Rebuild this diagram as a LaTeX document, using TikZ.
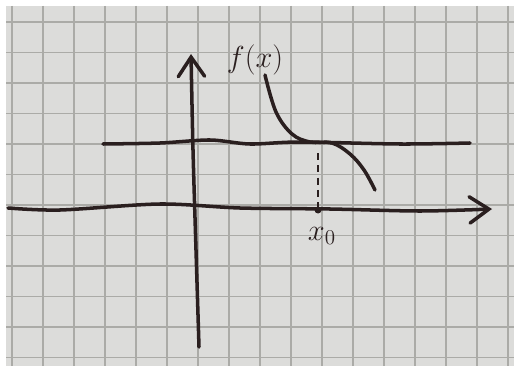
\documentclass[tikz,border=0pt]{standalone}
\usepackage{amsmath,amssymb}
\usetikzlibrary{arrows.meta, calc}
\definecolor{paper}{HTML}{DCDCDA}
\definecolor{gridline}{HTML}{ABABA7}
\definecolor{ink}{HTML}{2A1F1F}

\begin{document}
\begin{tikzpicture}[x=0.02cm, y=-0.02cm, font=\LARGE,
  pen/.style={draw=ink, line width=2pt, line cap=round, line join=round},
  axis/.style={pen, -{Straight Barb[length=11pt, width=15pt, line width=2pt, line cap=round]}},
  helper/.style={draw=ink, line width=1.6pt, dash pattern=on 4pt off 3pt},
  lab/.style={text=ink, inner sep=1pt}]
  \useasboundingbox (0,0) rectangle (519,371);
  % --- paper with squares ---
  \fill[white] (0,0) rectangle (519,371);
  \fill[paper] (6,6) rectangle (514,366);
  \foreach \i in {0,...,16}{\draw[gridline, line width=0.6pt] (12+\i*31,6) -- (12+\i*31,366);}
  \foreach \j in {0,...,11}{\draw[gridline, line width=0.6pt] (6,22+\j*30.5) -- (514,22+\j*30.5);}
  % --- axes ---
  \coordinate (xl) at (8,208);
  \coordinate (xr) at (492,209);
  \coordinate (yb) at (199,347);
  \coordinate (yt) at (191,54);
  \draw[axis] plot[smooth] coordinates {(xl) (60,210) (160,204) (240,208) (330,209) (420,211) (xr)};
  \draw[axis] plot[smooth] coordinates {(yb) (196,250) (193,150) (yt)};
  % --- level line ---
  \coordinate (hl) at (103,144);
  \coordinate (hr) at (470,143);
  \draw[pen] plot[smooth] coordinates {(hl) (160,143) (210,140) (250,144) (300,142) (400,144) (hr)};
  % --- graph of f ---
  \coordinate (fs) at (265,75);
  \coordinate (fe) at (375,190);
  \draw[pen] plot[smooth, tension=0.6] coordinates {(fs) (276,112) (292,134) (310,142) (332,143) (350,154) (364,170) (fe)};
  % --- the point x0 ---
  \coordinate (ht) at (318,153);
  \coordinate (x0) at (318,210);
  \draw[helper] (ht) -- (x0);
  \fill[ink] (x0) circle (3.5);
  \node[lab] (fx) at (255,60) {$f(x)$};
  \node[lab] (x0lab) at (322,236) {$x_0$};
\end{tikzpicture}
\end{document}
